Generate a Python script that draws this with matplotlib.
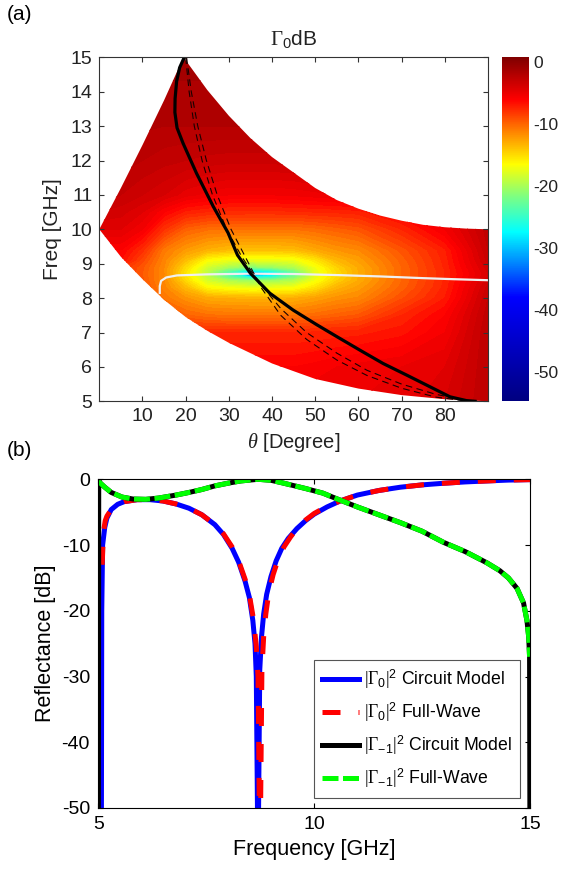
import numpy as np
import matplotlib
matplotlib.use('Agg')
import matplotlib.pyplot as plt
from matplotlib.colors import LinearSegmentedColormap, Normalize
from matplotlib.patches import Polygon
from matplotlib.cm import ScalarMappable

plt.rcParams['font.family'] = ['Liberation Sans', 'DejaVu Sans']
plt.rcParams['axes.unicode_minus'] = False
plt.rcParams['mathtext.fontset'] = 'custom'
plt.rcParams['mathtext.rm'] = 'Liberation Serif'
plt.rcParams['mathtext.it'] = 'Liberation Serif:italic'
plt.rcParams['mathtext.sf'] = 'Liberation Sans'
plt.rcParams['mathtext.bf'] = 'Liberation Serif:bold'

#%% Data (a): Gamma_0 [dB] on a theta / frequency grid
theta_grid = [0, 5, 10, 15, 20, 25, 30, 35, 40, 45, 50, 55, 60, 70, 80, 90]
freq_grid = [5, 6, 7, 7.5, 8, 8.3, 8.5, 8.6, 8.7, 8.8, 8.9, 9.1, 9.4, 10, 10.5, 11, 12, 13, 14, 15]
g0_db = [
    [-4.0, -4.0, -4.5, -4.5, -5.0, -5.0, -5.0, -5.0, -5.0, -5.0, -5.0, -5.0, -5.0, -4.8, -4.0, -2.5],
    [-4.5, -5.0, -5.5, -5.5, -6.0, -6.0, -6.0, -6.0, -6.0, -6.0, -5.8, -5.5, -5.3, -5.0, -4.5, -2.5],
    [-4.5, -4.5, -6.0, -7.0, -7.3, -7.45, -7.5, -7.5, -7.5, -7.5, -7.4, -7.3, -7.2, -6.7, -5.5, -2.5],
    [-5.5, -5.5, -7.2, -8.6, -9.9, -10.4, -10.56, -10.6, -10.6, -10.55, -10.2, -9.8, -9.4, -7.5, -6.0, -2.7],
    [-7.2, -7.2, -8.4, -10.7, -11.9, -12.9, -13.1, -13.2, -13.2, -13.1, -12.5, -11.8, -11.4, -9.1, -7.0, -3.0],
    [-7.6, -7.6, -9.1, -11.3, -13.6, -16.3, -17.0, -17.3, -17.2, -16.95, -15.3, -13.3, -12.3, -9.8, -7.3, -3.3],
    [-7.9, -7.9, -9.4, -11.5, -14.9, -18.2, -19.7, -20.5, -20.3, -19.5, -16.9, -14.5, -12.9, -10.0, -7.4, -3.7],
    [-8.0, -8.0, -9.45, -11.6, -15.3, -18.9, -22.5, -26.0, -24.8, -21.6, -17.4, -14.9, -13.0, -10.0, -7.5, -3.9],
    [-8.0, -8.0, -9.5, -11.5, -15.5, -19.0, -24.5, -38.0, -30.0, -23.5, -17.5, -15.0, -13.0, -10.0, -7.5, -4.0],
    [-8.0, -8.0, -9.45, -11.6, -15.3, -19.0, -22.7, -26.8, -25.1, -21.8, -17.4, -14.9, -13.0, -10.0, -7.5, -3.9],
    [-7.9, -7.9, -9.4, -11.5, -15.0, -18.3, -20.0, -21.3, -20.6, -19.7, -17.0, -14.6, -12.9, -10.0, -7.4, -3.7],
    [-6.5, -6.5, -8.8, -11.3, -13.8, -16.6, -17.4, -17.6, -17.55, -17.3, -15.6, -13.5, -12.4, -9.8, -7.3, -3.3],
    [-6.0, -6.0, -7.8, -10.8, -12.2, -13.2, -13.7, -13.9, -13.85, -13.7, -12.8, -12.0, -11.5, -9.3, -7.1, -3.0],
    [-4.5, -4.5, -5.5, -8.0, -9.8, -10.4, -10.5, -10.5, -10.5, -10.5, -10.2, -9.75, -9.3, -7.5, -5.5, -2.7],
    [-3.5, -3.8, -4.5, -6.0, -7.2, -7.55, -7.65, -7.7, -7.7, -7.6, -7.5, -7.4, -7.25, -6.0, -4.5, -2.5],
    [-2.5, -3.0, -3.5, -4.0, -4.8, -5.2, -5.5, -5.5, -5.5, -5.4, -5.2, -5.0, -4.7, -4.2, -3.5, -2.2],
    [-2.0, -2.2, -2.5, -2.8, -3.0, -3.2, -3.3, -3.3, -3.3, -3.2, -3.0, -2.8, -2.6, -2.4, -2.2, -2.0],
    [-1.7, -1.8, -1.9, -2.0, -2.0, -2.0, -2.0, -2.0, -2.0, -2.0, -1.9, -1.8, -1.8, -1.8, -1.8, -1.7],
    [-1.4, -1.5, -1.5, -1.6, -1.6, -1.6, -1.6, -1.6, -1.6, -1.6, -1.5, -1.5, -1.5, -1.5, -1.5, -1.4],
    [-1.2, -1.2, -1.3, -1.3, -1.3, -1.3, -1.3, -1.3, -1.3, -1.3, -1.3, -1.3, -1.3, -1.3, -1.2, -1.2],
]

# edges of the region where the map is defined
low_theta = [0, 5, 10, 15, 20, 25, 30, 35, 40, 50, 60, 70, 80, 90]
low_freq = [10, 9.2, 8.55, 7.95, 7.45, 7.05, 6.7, 6.4, 6.1, 5.65, 5.37, 5.18, 5.06, 5.0]
upl_theta = [0, 5, 10, 15, 19.5]
upl_freq = [10, 11.2, 12.45, 13.75, 15.0]
upr_theta = [19.5, 25, 30, 35, 40, 45, 50, 55, 60, 65, 70, 75, 80, 85, 90]
upr_freq = [15, 14.05, 13.3, 12.65, 12.1, 11.65, 11.2, 10.85, 10.6, 10.4, 10.25, 10.13, 10.06, 10.02, 10.0]

# curves drawn over the map
blk_theta = [19.5, 18.6, 17.9, 17.55, 17.5, 18.0, 19.4, 22.5, 26.4, 29.8, 32, 35, 39.5, 44.9, 50.3, 55,
             60.3, 65.7, 71.2, 76.6, 81.2, 85, 87]
blk_freq = [14.95, 14.7, 14.3, 13.8, 13.4, 12.95, 12.5, 11.63, 10.66, 9.9, 9.25, 8.72, 8.14, 7.65, 7.23,
            6.88, 6.49, 6.1, 5.76, 5.42, 5.13, 5.02, 5.0]
dsa_theta = [20, 20.8, 22.0, 23.8, 26.2, 29.5, 33, 37, 42, 48, 55, 62, 70, 78, 85, 88]
dsa_freq = [15, 14.0, 13.0, 12.0, 11.0, 10.0, 9.2, 8.45, 7.7, 7.0, 6.4, 5.9, 5.5, 5.2, 5.03, 5.0]
dsb_theta = [20.2, 21.3, 22.8, 24.8, 27.3, 30.5, 33.8, 37.5, 42, 48, 55, 62, 70, 78, 85, 88]
dsb_freq = [15, 14.0, 13.0, 12.0, 11.0, 10.0, 9.2, 8.3, 7.5, 6.8, 6.2, 5.75, 5.38, 5.12, 5.01, 5.0]
wht_theta = [14.0, 14.0, 14.3, 15.5, 18, 25, 35, 45, 55, 65, 75, 82, 90]
wht_freq = [8.15, 8.35, 8.5, 8.6, 8.66, 8.69, 8.71, 8.7, 8.67, 8.63, 8.58, 8.55, 8.52]

# colour scale (dB, colour)
cmap_db = [-54.8, -38, -27.4, -21.6, -16.5, -11, -6, 0.8]
cmap_rgb = [(0, 0, 0.5), (0, 0, 1), (0, 1, 1), (0.5, 1, 0.5), (1, 1, 0), (1, 0.5, 0), (1, 0, 0), (0.5, 0, 0)]

#%% Data (b): reflectance vs frequency
f_g0_cm = [5.07, 5.08, 5.1, 5.15, 5.2, 5.3, 5.45, 5.6, 5.9, 6.2, 6.5, 6.8, 7.1, 7.4, 7.7, 7.9, 8.1, 8.25,
           8.4, 8.5, 8.58, 8.63, 8.66, 8.70, 8.74, 8.78, 8.83, 8.9, 9.0, 9.12, 9.25, 9.4, 9.6, 9.8, 10.0,
           10.3, 10.6, 11.0, 11.5, 12.0, 12.5, 13.0, 13.5, 14.0, 14.5, 15.0]
r_g0_cm = [-60, -20, -10, -7.3, -5.9, -4.6, -3.8, -3.4, -3.1, -3.1, -3.3, -3.75, -4.4, -5.4, -6.9, -8.4,
           -10.5, -12.6, -15.5, -18.0, -21.5, -25, -30, -60, -29, -24, -20.5, -17.5, -14.8, -12.4, -10.5,
           -9.0, -7.5, -6.3, -5.3, -4.2, -3.3, -2.4, -1.7, -1.2, -0.85, -0.6, -0.4, -0.25, -0.12, -0.05]
f_g0_fw = [5.09, 5.12, 5.16, 5.2, 5.3, 5.45, 5.6, 5.9, 6.2, 6.5, 6.8, 7.1, 7.4, 7.7, 7.9, 8.1, 8.25, 8.4,
           8.5, 8.6, 8.66, 8.7, 8.745, 8.79, 8.83, 8.88, 8.95, 9.05, 9.15, 9.3, 9.45, 9.6, 9.8, 10.0, 10.3,
           10.6, 11.0, 11.5, 12.0, 12.5, 13.0, 13.5, 14.0, 14.5, 15.0]
r_g0_fw = [-13, -8, -6.3, -5.6, -4.6, -3.8, -3.4, -3.1, -3.1, -3.3, -3.75, -4.4, -5.4, -6.9, -8.3, -10.3,
           -12.4, -15.2, -17.6, -21.5, -25.5, -30, -60, -29, -24, -20.5, -17.2, -14.5, -12.5, -10.3, -8.8,
           -7.5, -6.2, -5.2, -4.1, -3.3, -2.4, -1.7, -1.2, -0.85, -0.6, -0.4, -0.25, -0.12, -0.05]
f_gm1_cm = [5.0, 5.01, 5.05, 5.15, 5.3, 5.55, 5.8, 6.1, 6.4, 6.8, 7.1, 7.4, 7.7, 8.0, 8.3, 8.7, 9.0, 9.3,
            9.8, 10.2, 10.5, 11.0, 11.5, 12.0, 12.5, 13.0, 13.5, 14.0, 14.3, 14.5, 14.7, 14.85, 14.93,
            14.97, 14.99, 15.0]
r_gm1_cm = [-60, -0.2, -0.6, -1.2, -2.0, -2.7, -3.0, -3.05, -2.85, -2.4, -2.0, -1.55, -1.0, -0.6, -0.25,
            0.0, -0.15, -0.6, -1.4, -2.1, -2.9, -4.2, -5.4, -6.6, -7.9, -9.6, -11.0, -12.7, -13.9, -15.0,
            -16.6, -18.8, -21.5, -24.0, -27.0, -60]
f_gm1_fw = [5.0, 5.05, 5.15, 5.3, 5.55, 5.8, 6.1, 6.4, 6.8, 7.1, 7.4, 7.7, 8.0, 8.3, 8.7, 9.0, 9.3, 9.8,
            10.2, 10.5, 11.0, 11.5, 12.0, 12.5, 13.0, 13.5, 14.0, 14.3, 14.5, 14.7, 14.85, 14.93, 14.97,
            14.99]
r_gm1_fw = [-0.3, -0.6, -1.2, -2.0, -2.7, -3.0, -3.05, -2.85, -2.4, -2.0, -1.55, -1.0, -0.6, -0.25, 0.0,
            -0.15, -0.6, -1.4, -2.1, -2.9, -4.2, -5.4, -6.6, -7.9, -9.6, -11.0, -12.7, -13.9, -15.0, -16.6,
            -18.8, -21.5, -24.0, -27.0]

#%% Figure
W, H = 561, 869
fig = plt.figure(figsize=(W / 100, H / 100), dpi=100)

def px_axes(x0, y0, x1, y1):
    return fig.add_axes([x0 / W, 1 - y1 / H, (x1 - x0) / W, (y1 - y0) / H])

vmin, vmax = cmap_db[0], cmap_db[-1]
norm = Normalize(vmin, vmax)
stops = [(d - vmin) / (vmax - vmin) for d in cmap_db]
cmap = LinearSegmentedColormap.from_list('g0', list(zip(stops, cmap_rgb)), N=512)

# ---- panel (a)
ax1 = px_axes(99.3, 57.3, 488, 401.3)
cs = ax1.contourf(theta_grid, freq_grid, np.array(g0_db), levels=np.arange(-55, 1.01, 0.5),
                  cmap=cmap, norm=norm)
edge = (list(zip(low_theta, low_freq)) + [(90, 10)] +
        list(zip(upr_theta[::-1], upr_freq[::-1])) + list(zip(upl_theta[::-1], upl_freq[::-1])))
clip = Polygon(edge, closed=True, transform=ax1.transData, facecolor='none', edgecolor='none')
cs.set_clip_path(clip)

ax1.plot(wht_theta, wht_freq, color='#f0f0f0', lw=1.6)
ax1.plot(dsa_theta, dsa_freq, color='#1a0000', lw=0.8, dashes=(6, 4))
ax1.plot(dsb_theta, dsb_freq, color='#1a0000', lw=0.8, dashes=(6, 4))
ax1.plot(blk_theta, blk_freq, color='black', lw=2.3)

ax1.set_xlim(0, 90)
ax1.set_ylim(5, 15)
ax1.set_xticks(range(10, 90, 10))
ax1.set_yticks(range(5, 16))
ax1.tick_params(direction='in', length=3.5, width=0.8, top=True, right=True,
                labelsize=14, colors='#333333', labelcolor='#222222', pad=5)
for s in ax1.spines.values():
    s.set_color('#333333')
    s.set_linewidth(0.8)
ax1.set_xlabel(r'$\theta$ [Degree]', fontsize=14.5, color='#222222', labelpad=4)
ax1.set_ylabel('Freq [GHz]', fontsize=15, color='#222222', labelpad=6)
ax1.set_title(r'$\Gamma_{\mathsf{0}}$dB', fontsize=15, color='#222222', pad=9)

cax = px_axes(502.3, 57.3, 529.3, 401.3)
cb = fig.colorbar(ScalarMappable(norm=norm, cmap=cmap), cax=cax, ticks=[0, -10, -20, -30, -40, -50])
cb.outline.set_visible(False)
cax.tick_params(length=0, labelsize=12.5, pad=3, labelcolor='#222222')

# ---- panel (b)
ax2 = px_axes(98.3, 479.3, 530, 808)
ax2.plot(f_g0_cm, r_g0_cm, color='#0000ff', lw=3.6, label=r'$|\Gamma_{\mathsf{0}}|^{\mathsf{2}}$ Circuit Model')
ax2.plot(f_g0_fw, r_g0_fw, color='#ff0000', lw=3.6, dashes=(3.6, 3.6),
         label=r'$|\Gamma_{\mathsf{0}}|^{\mathsf{2}}$ Full-Wave')
ax2.plot(f_gm1_cm, r_gm1_cm, color='black', lw=3.6, label=r'$|\Gamma_{\mathsf{-1}}|^{\mathsf{2}}$ Circuit Model')
ax2.plot(f_gm1_fw, r_gm1_fw, color='#00ff00', lw=3.6, dashes=(3.2, 0.9),
         label=r'$|\Gamma_{\mathsf{-1}}|^{\mathsf{2}}$ Full-Wave')
ax2.set_xlim(5, 15)
ax2.set_ylim(-50, 0)
ax2.set_xticks([5, 10, 15])
ax2.set_yticks(range(-50, 1, 10))
ax2.tick_params(direction='in', length=3.5, width=0.8, top=True, right=True, labelsize=14, pad=6)
for s in ax2.spines.values():
    s.set_linewidth(0.8)
ax2.set_xlabel('Frequency [GHz]', fontsize=15.5, labelpad=4)
ax2.set_ylabel('Reflectance [dB]', fontsize=15.5, labelpad=4)
leg = ax2.legend(loc='lower right', bbox_to_anchor=(0.977, 0.030), borderaxespad=0, fontsize=12.7,
                 handlelength=2.1, handletextpad=0.3, labelspacing=0.55, borderpad=0.45,
                 fancybox=False, framealpha=1, edgecolor='#555555')
leg.get_frame().set_linewidth(0.8)

fig.text(7 / W, 1 - 14 / H, '(a)', fontsize=15, va='center', ha='left')
fig.text(7 / W, 1 - 451 / H, '(b)', fontsize=15, va='center', ha='left')

fig.savefig('out.png', dpi=100)
